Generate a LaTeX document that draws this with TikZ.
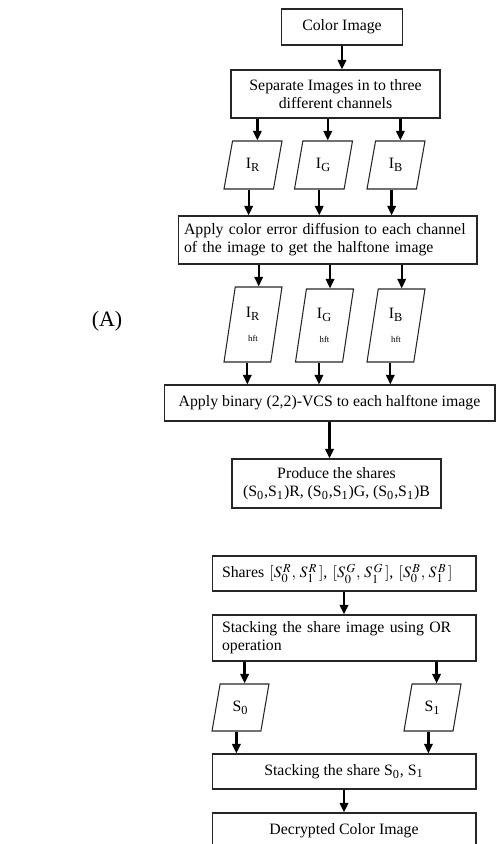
\documentclass[tikz,border=0pt]{standalone}
\usepackage{mathptmx}
\usepackage{fontspec}
\setmainfont{Liberation Serif}
\usetikzlibrary{shapes.geometric,arrows.meta}
\newcommand{\sharesym}[2]{S^{\,#2}_{#1}}% #1=index, #2=channel
\newcommand{\sharepair}[1]{$[\sharesym{0}{#1},\,\sharesym{1}{#1}\,]$}
\tikzset{
  procbox/.style={draw=black!85,line width=0.6pt,inner sep=0pt,align=center,
    font=\fontsize{9}{10.4}\selectfont},
  databox/.style={trapezium,trapezium stretches=true,draw=black!85,line width=0.6pt,
    inner sep=0pt,align=center,font=\fontsize{9}{10.4}\selectfont},
  flow/.style={-{Triangle[length=5.5pt,width=4.8pt]},line width=1.3pt}
}
\begin{document}
\begin{tikzpicture}[x=0.02cm,y=-0.02cm]
        \useasboundingbox (0,0) rectangle (496,844);
        \clip (0,0) rectangle (496,844);
        \node[font=\fontsize{12.5}{14}\selectfont] (lblA) at (107,321) {(A)};
        % encryption
        \node[procbox,minimum width=2.42cm,minimum height=0.72cm] (color) at (342,27) {Color Image};
        \node[procbox,minimum width=4.18cm,minimum height=0.96cm] (sep) at (335.5,94)
          {Separate Images in to three\\different channels};
        \node[databox,trapezium left angle=77,trapezium right angle=103,
          minimum width=1.16cm,minimum height=0.96cm] (IR) at (253,165) {I\textsubscript{R}};
        \node[databox,trapezium left angle=77,trapezium right angle=103,
          minimum width=1.16cm,minimum height=0.96cm] (IG) at (323.5,165) {I\textsubscript{G}};
        \node[databox,trapezium left angle=77,trapezium right angle=103,
          minimum width=1.16cm,minimum height=0.96cm] (IB) at (396,165) {I\textsubscript{B}};
        \node[procbox,text width=5.74cm,inner xsep=0.12cm,align=left,minimum height=0.96cm] (diff) at (327.5,240)
          {Apply color error diffusion to each channel\\of the image to get the halftone image};
        \node[databox,trapezium left angle=82.4,trapezium right angle=97.6,
          minimum width=1.16cm,minimum height=1.5cm] (IRh) at (253,324.5)
          {I\textsubscript{R}\\[3pt]{\fontsize{5}{6}\selectfont hft}};
        \node[databox,trapezium left angle=82.4,trapezium right angle=97.6,
          minimum width=1.16cm,minimum height=1.46cm] (IGh) at (324.5,325.5)
          {I\textsubscript{G}\\[3pt]{\fontsize{5}{6}\selectfont hft}};
        \node[databox,trapezium left angle=82.4,trapezium right angle=97.6,
          minimum width=1.16cm,minimum height=1.46cm] (IBh) at (396,325.5)
          {I\textsubscript{B}\\[3pt]{\fontsize{5}{6}\selectfont hft}};
        \node[procbox,minimum width=6.62cm,minimum height=0.72cm] (vcs) at (329.5,403)
          {Apply binary (2,2)-VCS to each halftone image};
        \node[procbox,minimum width=4.18cm,minimum height=0.98cm] (produce) at (336.5,483.5)
          {Produce the shares\\(S\textsubscript{0},S\textsubscript{1})R, (S\textsubscript{0},S\textsubscript{1})G, (S\textsubscript{0},S\textsubscript{1})B};
        % decryption
        \node[procbox,text width=4.88cm,inner xsep=0.2cm,align=left,minimum height=0.7cm] (shares) at (344,573.5)
          {Shares \sharepair{R}, \sharepair{G}, \sharepair{B}};
        \node[procbox,text width=4.88cm,inner xsep=0.2cm,align=left,minimum height=0.92cm] (stack) at (344,638)
          {Stacking the share image using OR\\operation};
        \node[databox,trapezium left angle=76.8,trapezium right angle=103.2,
          minimum width=1.14cm,minimum height=0.94cm] (S0) at (240.5,707.5) {S\textsubscript{0}};
        \node[databox,trapezium left angle=76.8,trapezium right angle=103.2,
          minimum width=1.14cm,minimum height=0.94cm] (S1) at (432.5,707.5) {S\textsubscript{1}};
        \node[procbox,minimum width=5.28cm,minimum height=0.7cm] (stack2) at (344,771.5)
          {Stacking the share S\textsubscript{0}, S\textsubscript{1}};
        \node[procbox,minimum width=5.28cm,minimum height=0.72cm] (dec) at (344,831)
          {Decrypted Color Image};
        % connectors
        \draw[flow] (color.south) -- (color.south |- sep.north);
        \foreach \ch in {IR,IG,IB}{
          \draw[flow] (\ch.top side |- sep.south) -- (\ch.top side);
          \draw[flow] (\ch.bottom side) -- (\ch.bottom side |- diff.north);
          \draw[flow] (\ch h.top side |- diff.south) -- (\ch h.top side);
          \draw[flow] (\ch h.bottom side) -- (\ch h.bottom side |- vcs.north);
        }
        \draw[flow] (vcs.south) -- (vcs.south |- produce.north);
        \draw[flow] (shares.south) -- (stack.north);
        \foreach \sh in {S0,S1}{
          \draw[flow] (\sh.top side |- stack.south) -- (\sh.top side);
          \draw[flow] (\sh.bottom side) -- (\sh.bottom side |- stack2.north);
        }
        \draw[flow] (stack2.south) -- (dec.north);
    \end{tikzpicture}
\end{document}
